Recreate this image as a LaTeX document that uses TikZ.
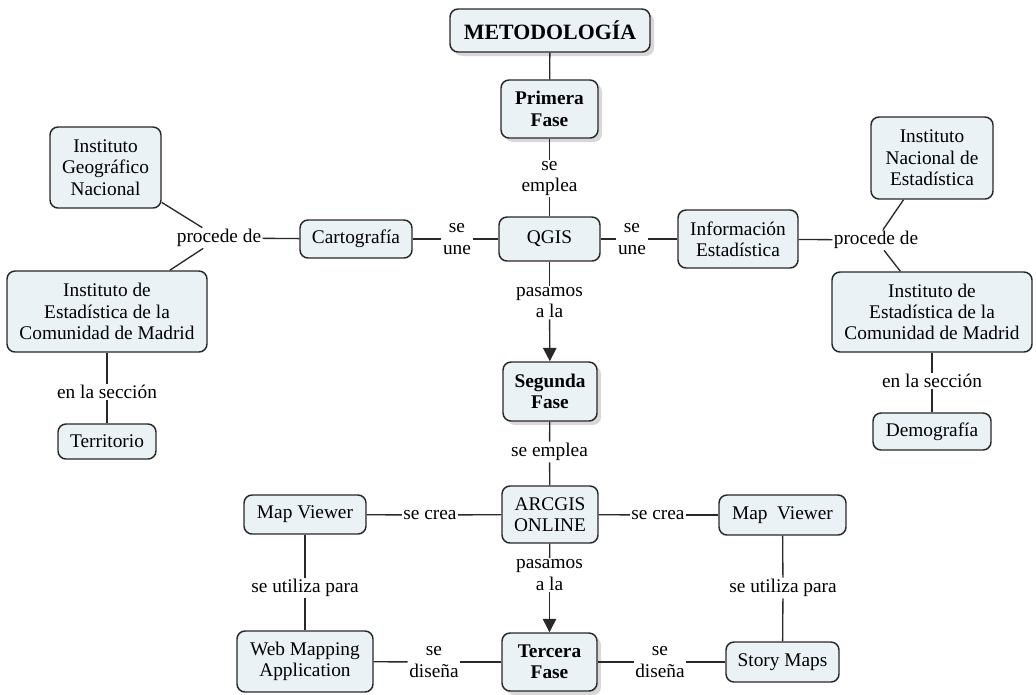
\documentclass[tikz,border=0pt]{standalone}
\usepackage{fontspec}
\setmainfont{Liberation Serif}
\usetikzlibrary{arrows.meta,shadows}
\definecolor{nodefill}{RGB}{234,242,246}
\definecolor{edgecol}{RGB}{40,40,40}
\begin{document}
\begin{tikzpicture}[x=0.75pt,y=-0.75pt,
  sz/.style 2 args={minimum width={#1*0.75pt}, minimum height={#2*0.75pt}},
  concept/.style={draw=edgecol, line width=1.1pt, fill=nodefill, rounded corners=6pt,
    align=center, inner sep=0pt, font=\fontsize{14.5}{16}\selectfont},
  phase/.style={concept, font=\fontsize{14.5}{16}\selectfont\bfseries,
    drop shadow={shadow xshift=3pt, shadow yshift=-3pt, fill=black!30}},
  lbl/.style={align=center, inner sep=1pt, font=\fontsize{14.5}{16}\selectfont},
  link/.style={draw=edgecol, line width=1pt},
  arr/.style={link, -{Triangle[length=10pt,width=10pt]}}]
\useasboundingbox (0,0) rectangle (1036,694);

% concepts
\node[phase, sz={200}{43}, font=\fontsize{16.4}{18}\selectfont\bfseries] (met) at (550,30.5) {METODOLOGÍA};
\node[phase, sz={97}{58}] (f1) at (549.5,109) {Primera\\Fase};
\node[concept, sz={101}{44}] (qgis) at (549.5,239) {QGIS};
\node[concept, sz={112}{38}] (carto) at (356,239) {Cartografía};
\node[concept, sz={111}{81}] (ign) at (105.5,167.5) {Instituto\\Geográfico\\Nacional};
\node[concept, sz={200}{81}] (iecmL) at (107,311.5) {Instituto de\\Estadística de la\\Comunidad de Madrid};
\node[concept, sz={98}{35}] (terr) at (107,441.5) {Territorio};
\node[concept, sz={120}{58}] (info) at (738,239) {Información\\Estadística};
\node[concept, sz={122}{82}] (ine) at (932,158) {Instituto\\Nacional de\\Estadística};
\node[concept, sz={200}{80}] (iecmR) at (932,312) {Instituto de\\Estadística de la\\Comunidad de Madrid};
\node[concept, sz={118}{37}] (demo) at (932,431.5) {Demografía};
\node[phase, sz={94}{59}] (f2) at (550,391.5) {Segunda\\Fase};
\node[concept, sz={96}{57}] (arc) at (550,514.5) {ARCGIS\\ONLINE};
\node[concept, sz={122}{39}] (mvL) at (305,514.5) {Map Viewer};
\node[concept, sz={136}{61}] (wma) at (305,661.5) {Web Mapping\\Application};
\node[phase, sz={95}{58}] (f3) at (549.5,662) {Tercera\\Fase};
\node[concept, sz={127}{40}] (mvR) at (782.5,515) {Map\ \ Viewer};
\node[concept, sz={113}{40}] (story) at (782.5,662) {Story Maps};

% linking phrases
\node[lbl] (lemp1) at (549.5,178.5) {se\\emplea};
\node[lbl] (luneL) at (457,239) {se\\une};
\node[lbl] (luneR) at (632,239) {se\\une};
\node[lbl] (lprocL) at (219,238) {procede de};
\node[lbl] (lprocR) at (876,240) {procede de};
\node[lbl] (lsecL) at (107,392) {en la sección};
\node[lbl] (lsecR) at (932,381) {en la sección};
\node[lbl] (lpas1) at (549.5,302.5) {pasamos\\a la};
\node[lbl] (lemp2) at (549.5,452) {se emplea};
\node[lbl] (lcreaL) at (430,515) {se crea};
\node[lbl] (lcreaR) at (658,515) {se crea};
\node[lbl] (lpas2) at (549.5,575) {pasamos\\a la};
\node[lbl] (lutilL) at (305,588) {se utiliza para};
\node[lbl] (lutilR) at (783,588) {se utiliza para};
\node[lbl] (ldisL) at (434,662) {se\\diseña};
\node[lbl] (ldisR) at (660,662) {se\\diseña};

% connectors
\draw[link] (met) -- (f1);
\draw[link] (f1) -- (lemp1);
\draw[link] (lemp1) -- (qgis);
\draw[link] (qgis) -- (luneL);
\draw[link] (luneL) -- (carto);
\draw[link] (qgis) -- (luneR);
\draw[link] (luneR) -- (info);
\draw[link] (carto) -- (lprocL);
\draw[link] (lprocL) -- (ign);
\draw[link] (lprocL) -- (iecmL);
\draw[link] (info) -- (lprocR);
\draw[link] (lprocR) -- (ine);
\draw[link] (lprocR) -- (iecmR);
\draw[link] (iecmL) -- (lsecL);
\draw[link] (lsecL) -- (terr);
\draw[link] (iecmR) -- (lsecR);
\draw[link] (lsecR) -- (demo);
\draw[link] (qgis) -- (lpas1);
\draw[arr] (lpas1) -- (f2);
\draw[link] (f2) -- (lemp2);
\draw[link] (lemp2) -- (arc);
\draw[link] (arc) -- (lcreaL);
\draw[link] (lcreaL) -- (mvL);
\draw[link] (arc) -- (lcreaR);
\draw[link] (lcreaR) -- (mvR);
\draw[link] (arc) -- (lpas2);
\draw[arr] (lpas2) -- (f3);
\draw[link] (mvL) -- (lutilL);
\draw[link] (lutilL) -- (wma);
\draw[link] (mvR) -- (lutilR);
\draw[link] (lutilR) -- (story);
\draw[link] (f3) -- (ldisL);
\draw[link] (ldisL) -- (wma);
\draw[link] (f3) -- (ldisR);
\draw[link] (ldisR) -- (story);
\end{tikzpicture}
\end{document}
